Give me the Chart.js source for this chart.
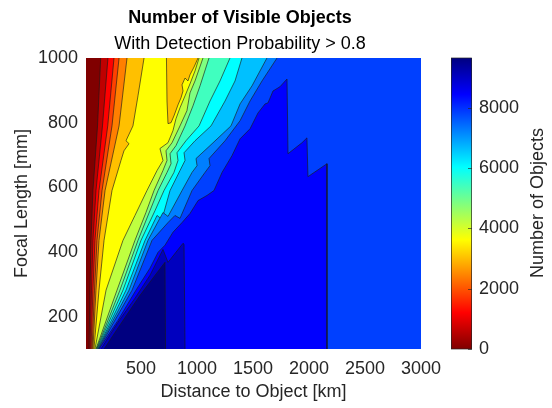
<!DOCTYPE html>
<html>
<head>
<meta charset="utf-8">
<script src="https://cdn.jsdelivr.net/npm/chart.js@4.4.1/dist/chart.umd.min.js"></script>
<style>
  html, body { margin: 0; padding: 0; background: #fff; }
  #wrap { position: relative; width: 552px; height: 408px; overflow: hidden;
          font-family: "Liberation Sans", Arial, Helvetica, sans-serif; }
  #plot { position: absolute; left: 0; top: 0; }
  #cbar { position: absolute; left: 451px; top: 0; }
  .ttl { position: absolute; left: 0; width: 480px; text-align: center;
         font-size: 18px; line-height: 22px; color: #000; white-space: nowrap; }
  #cbLabel { position: absolute; left: 437px; top: 192px; width: 200px; height: 22px;
             line-height: 22px; font-size: 18px; text-align: center; color: #262626;
             transform: rotate(-90deg); white-space: nowrap; }
</style>
</head>
<body>
<div id="wrap">
  <canvas id="plot" width="552" height="408"></canvas>
  <canvas id="cbar" width="101" height="408"></canvas>
  <div class="ttl" style="top:6px;font-weight:bold">Number of Visible Objects</div>
  <div class="ttl" style="top:32px">With Detection Probability &gt; 0.8</div>
  <div id="cbLabel">Number of Objects</div>
</div>
<script>
const FONT = '"Liberation Sans", Arial, Helvetica, sans-serif';
const INK = '#262626';

// --- axes ---
const xRange = [10, 3000];
const yRange = [100, 1000];
const xTicks = [500, 1000, 1500, 2000, 2500, 3000];
const yTicks = [200, 400, 600, 800, 1000];
const cbTicks = [0, 2000, 4000, 6000, 8000];
const cMax = 9650;

// contour levels (number of objects)
const levels = [0, 600, 1210, 1810, 2410, 3020, 3620, 4220, 4830, 5430, 6030, 6630, 7240, 7840, 8440, 9050, 9650];

// contour lines [distance km, focal length mm], bottom to top
const c1 = [[37,100],[46,282],[55,436],[72,590],[113,790],[141,1000]];
const c2 = [[46,100],[59,282],[72,436],[99,590],[157,790],[206,1000]];
const c3 = [[55,100],[72,282],[90,436],[126,590],[204,790],[260,1000]];
const c4 = [[64,100],[86,282],[108,436],[153,590],[242,790],[305,1000]];
const c5 = [[72,100],[99,282],[126,436],[180,590],[305,790],[376,1000]];
const c6 = [[81,100],[126,282],[171,436],[242,590],[322,683],[349,713],[394,735],[367,744],[429,790],[474,883],[528,1000]];
const c7 = [[90,100],[189,282],[340,436],[447,513],[554,590],[644,652],[697,683],[670,720],[742,738],[786,775],[813,812],[849,846],[894,883],[938,920],[983,960],[1019,1000]];
const c8 = [[99,100],[287,282],[447,436],[545,522],[617,590],[697,652],[733,683],[724,713],[778,738],[849,790],[911,837],[938,892],[983,929],[1054,1000]];
const c9 = [[104,100],[313,282],[474,436],[581,528],[653,590],[733,646],[769,673],[760,704],[813,729],[894,790],[965,852],[1028,914],[1108,1000]];
const c10 = [[108,100],[340,282],[501,436],[626,528],[706,590],[795,646],[831,683],[822,707],[902,744],[1019,790],[1117,867],[1206,929],[1295,1000]];
const c11 = [[113,100],[367,282],[537,436],[644,513],[688,501],[760,590],[849,652],[894,683],[885,707],[983,744],[1126,790],[1251,867],[1340,929],[1402,1000]];
const c12 = [[117,100],[394,282],[563,436],[697,522],[742,510],[867,590],[956,646],[1001,667],[992,689],[1117,729],[1304,790],[1385,858],[1492,914],[1625,1000]];
const c13 = [[122,100],[421,282],[599,436],[742,491],[804,513],[849,504],[956,590],[1072,646],[1117,667],[1108,689],[1251,744],[1385,806],[1474,867],[1581,929],[1715,1000]];
// closed regions
const c14 = [[126,100],[296,189],[456,282],[581,350],[653,399],[715,421],[786,461],[867,491],[938,519],[1010,559],[1090,575],[1152,590],[1224,646],[1313,698],[1385,750],[1474,781],[1545,830],[1608,858],[1634,861],[1679,898],[1741,911],[1804,935],[1813,704],[1938,738],[1982,753],[1991,633],[2161,673],[2161,100]];
const c15 = [[144,100],[296,183],[447,257],[581,328],[697,408],[742,368],[876,427],[885,424],[894,100]];
const c16 = [[171,100],[313,174],[492,266],[626,328],[715,368],[720,100]];
// lower-valued pocket inside the yellow band (level 5)
const island = [[728,1000],[733,867],[742,797],[769,800],[795,821],[831,855],[858,877],[876,898],[867,917],[894,938],[920,929],[938,948],[974,972],[1010,1000]];

// flipped jet colormap, 0 = dark red, cMax = dark blue
function jetColor(v) {
    const s = 1 - v / cMax;
    const f = (a) => Math.round(255 * Math.max(0, Math.min(1, a)));
    const r = f(Math.min(4 * s - 1.5, -4 * s + 4.5));
    const g = f(Math.min(4 * s - 0.5, -4 * s + 3.5));
    const b = f(Math.min(4 * s + 0.5, -4 * s + 2.5));
    return `rgb(${r},${g},${b})`;
}

// push the ends of a boundary just outside the axes so no edge strokes show
const OUT_LO = 50, OUT_HI = 1050, OUT_X = 3200;
const edge = ([x, y]) => [x, y <= yRange[0] ? OUT_LO : (y >= yRange[1] ? OUT_HI : y)];
function openShape(b) {
    const first = edge(b[0]), last = edge(b[b.length - 1]);
    return [[OUT_X, first[1]], first, ...b, last, [OUT_X, last[1]]];
}
function closedShape(b) {
    const first = edge(b[0]), last = edge(b[b.length - 1]);
    return [last, first, ...b, last];
}

const layers = [
    [openShape(c1), 1], [openShape(c2), 2], [openShape(c3), 3], [openShape(c4), 4],
    [openShape(c5), 5], [openShape(c6), 6], [closedShape(island), 5],
    [openShape(c7), 7], [openShape(c8), 8], [openShape(c9), 9], [openShape(c10), 10],
    [openShape(c11), 11], [openShape(c12), 12], [openShape(c13), 13],
    [closedShape(c14), 14], [closedShape(c15), 15], [closedShape(c16), 16]
];

const datasets = layers.map(([pts, lvl], i) => ({
    data: pts.map(([x, y]) => ({ x, y })),
    showLine: true,
    fill: 'shape',
    backgroundColor: jetColor(levels[lvl]),
    borderColor: 'rgba(25,25,25,0.8)',
    borderWidth: 0.8,
    pointRadius: 0,
    tension: 0,
    clip: 0,
    order: layers.length - i
}));

const backgroundFill = {
    id: 'backgroundFill',
    beforeDatasetsDraw(chart) {
        const a = chart.chartArea;
        chart.ctx.save();
        chart.ctx.fillStyle = jetColor(levels[0]);
        chart.ctx.fillRect(a.left, a.top, a.right - a.left, a.bottom - a.top);
        chart.ctx.restore();
    }
};

const tickFont = { family: FONT, size: 18 };
const plain = (v) => String(v);

new Chart(document.getElementById('plot'), {
    type: 'scatter',
    data: { datasets },
    options: {
        responsive: false,
        animation: false,
        events: [],
        devicePixelRatio: 1,
        layout: { padding: { top: 58, right: 131, bottom: 0, left: 0 } },
        plugins: { legend: { display: false }, tooltip: { enabled: false } },
        scales: {
            x: {
                type: 'linear',
                min: xRange[0],
                max: xRange[1],
                grid: { display: false, drawTicks: false },
                border: { display: false },
                afterBuildTicks: (s) => { s.ticks = xTicks.map(v => ({ value: v })); },
                afterFit: (s) => { s.height = 59; },
                ticks: { color: INK, font: tickFont, padding: 9, maxRotation: 0, autoSkip: false, callback: plain },
                title: { display: true, text: 'Distance to Object [km]', color: INK, font: tickFont, padding: { top: 0, bottom: 5 } }
            },
            y: {
                type: 'linear',
                min: yRange[0],
                max: yRange[1],
                grid: { display: false, drawTicks: false },
                border: { display: false },
                afterBuildTicks: (s) => { s.ticks = yTicks.map(v => ({ value: v })); },
                afterFit: (s) => { s.width = 86; },
                ticks: { color: INK, font: tickFont, padding: 8, autoSkip: false, callback: plain },
                title: { display: true, text: 'Focal Length [mm]', color: INK, font: tickFont, padding: { top: 11, bottom: 0 } }
            }
        }
    },
    plugins: [backgroundFill]
});

// --- colorbar ---
const jetKnots = [0, 0.125, 0.375, 0.625, 0.875, 1];
const cbFrame = {
    id: 'cbFrame',
    afterDraw(chart) {
        const { ctx, chartArea: a, scales: { y } } = chart;
        ctx.save();
        ctx.strokeStyle = 'rgba(38,38,38,0.85)';
        ctx.lineWidth = 0.8;
        ctx.strokeRect(a.left + 0.5, a.top, a.right - a.left - 1, a.bottom - a.top);
        cbTicks.forEach(v => {
            const py = Math.round(y.getPixelForValue(v)) + 0.5;
            ctx.beginPath();
            ctx.moveTo(a.right - 4, py);
            ctx.lineTo(a.right, py);
            ctx.stroke();
        });
        ctx.restore();
    }
};

new Chart(document.getElementById('cbar'), {
    type: 'bar',
    data: {
        labels: [''],
        datasets: [{
            data: [cMax],
            barPercentage: 1,
            categoryPercentage: 1,
            borderWidth: 0,
            backgroundColor: (c) => {
                const a = c.chart.chartArea;
                if (!a) return jetColor(cMax / 2);
                const g = c.chart.ctx.createLinearGradient(0, a.bottom, 0, a.top);
                jetKnots.forEach(t => g.addColorStop(t, jetColor(t * cMax)));
                return g;
            }
        }]
    },
    options: {
        responsive: false,
        animation: false,
        events: [],
        devicePixelRatio: 1,
        layout: { padding: { top: 58, right: 0, bottom: 59, left: 0 } },
        plugins: { legend: { display: false }, tooltip: { enabled: false } },
        scales: {
            x: { display: false },
            y: {
                position: 'right',
                min: 0,
                max: cMax,
                grid: { display: false, drawTicks: false },
                border: { display: false },
                afterBuildTicks: (s) => { s.ticks = cbTicks.map(v => ({ value: v })); },
                afterFit: (s) => { s.width = 80; },
                ticks: { color: INK, font: tickFont, padding: 7, autoSkip: false, callback: plain }
            }
        }
    },
    plugins: [cbFrame]
});
</script>
</body>
</html>
